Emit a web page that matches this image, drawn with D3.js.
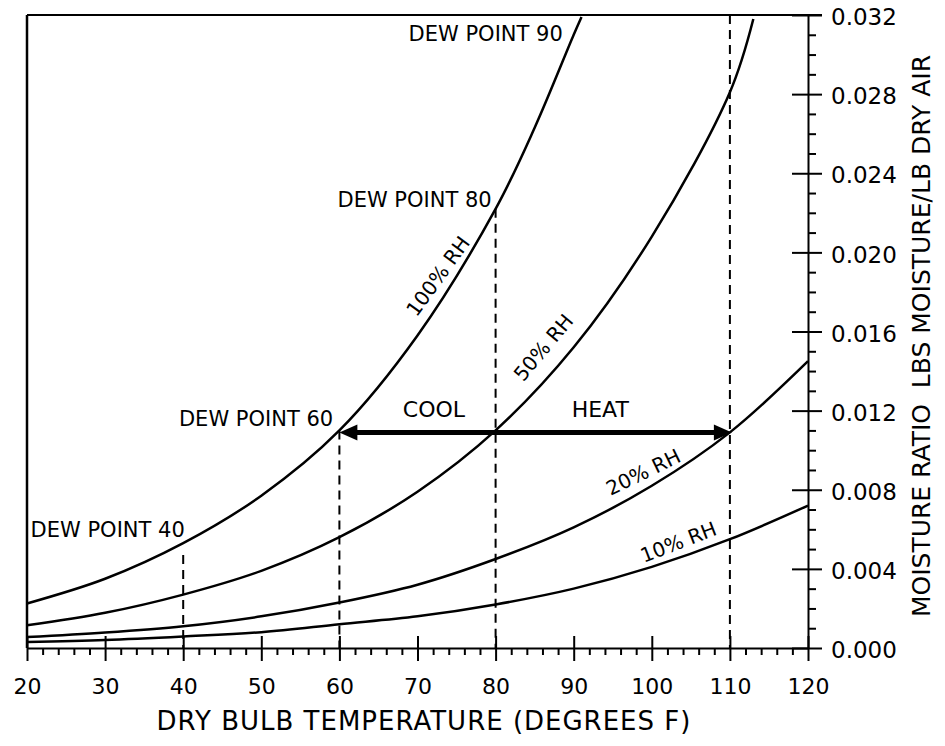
<!DOCTYPE html>
<html>
<head>
<meta charset="utf-8">
<script src="https://cdn.jsdelivr.net/npm/d3@7"></script>
<style>
  body { margin: 0; background: #fff; }
  svg { font-family: "DejaVu Sans", sans-serif; }
</style>
</head>
<body>
<svg width="945" height="746"></svg>
<script>
const width = 945;
const height = 746;

// Relative humidity curves (dry bulb F, moisture ratio lb/lb)
const rh100Temps = [20, 30, 40, 50, 60, 70, 80, 85, 90, 91];
const rh100 = [0.00225, 0.0035, 0.0053, 0.0077, 0.0110, 0.0158, 0.0222, 0.0263, 0.0310, 0.0319];
const rh50Temps = [20, 30, 40, 50, 60, 70, 80, 90, 100, 110, 113];
const rh50 = [0.00115, 0.00178, 0.0027, 0.0039, 0.0056, 0.0079, 0.0110, 0.0152, 0.0208, 0.0281, 0.0318];
const rhTemps = [20, 30, 40, 50, 60, 70, 80, 90, 100, 110, 120];
const rh20 = [0.00055, 0.00078, 0.0011, 0.0016, 0.0023, 0.0032, 0.0045, 0.0061, 0.0082, 0.0109, 0.0145];
const rh10 = [0.0003, 0.0004, 0.00058, 0.0008, 0.0012, 0.0016, 0.0022, 0.0030, 0.0041, 0.0055, 0.0072];

// dashed verticals (temperature, top moisture ratio)
const dropTemps = [40, 60, 80, 110];
const dropTops = [0.0047, 0.0110, 0.0222, 0.032];

// cool / heat process line
const processTemps = [60, 110];
const processW = 0.0109;

const xTicks = [20, 30, 40, 50, 60, 70, 80, 90, 100, 110, 120];
const yTicks = [0, 0.004, 0.008, 0.012, 0.016, 0.020, 0.024, 0.028, 0.032];

const labels = [
  { text: "DEW POINT 90", t: 88.6, w: 0.0307, anchor: "end", angle: 0, size: 21 },
  { text: "DEW POINT 80", t: 79.5, w: 0.0223, anchor: "end", angle: 0, size: 21 },
  { text: "DEW POINT 60", t: 59.2, w: 0.01122, anchor: "end", angle: 0, size: 21 },
  { text: "DEW POINT 40", t: 40.2, w: 0.00561, anchor: "end", angle: 0, size: 21 },
  { text: "COOL", t: 72.1, w: 0.01168, anchor: "middle", angle: 0, size: 22 },
  { text: "HEAT", t: 93.4, w: 0.01168, anchor: "middle", angle: 0, size: 22 },
  { text: "100% RH", t: 72.6, w: 0.0188, anchor: "middle", angle: -54, mid: true, size: 20 },
  { text: "50% RH", t: 86.1, w: 0.0152, anchor: "middle", angle: -50, mid: true, size: 20 },
  { text: "20% RH", t: 98.9, w: 0.0089, anchor: "middle", angle: -26, mid: true, size: 20 },
  { text: "10% RH", t: 103.4, w: 0.00536, anchor: "middle", angle: -21, mid: true, size: 20 }
];

const svg = d3.select("svg");

const x = d3.scaleLinear().domain([20, 120]).range([27, 808]);
const y = d3.scaleLinear().domain([0, 0.032]).range([648, 15]);

const line = d3.line()
  .x(d => x(d[0]))
  .y(d => y(d[1]))
  .curve(d3.curveCatmullRom);

// frame: top and left
svg.append("line")
  .attr("x1", x(20)).attr("x2", x(120) + 14)
  .attr("y1", y(0.032)).attr("y2", y(0.032))
  .attr("stroke", "#000").attr("stroke-width", 2);
svg.append("line")
  .attr("x1", x(20)).attr("x2", x(20))
  .attr("y1", y(0.032)).attr("y2", y(0))
  .attr("stroke", "#000").attr("stroke-width", 2.5);

// x axis
const xMinor = svg.append("g")
  .attr("transform", `translate(0,${y(0)})`)
  .call(d3.axisBottom(x).tickValues(d3.range(22, 120, 2).filter(v => v % 10 !== 0)).tickSize(7).tickFormat(""));
xMinor.select(".domain").remove();

const xAxis = svg.append("g")
  .attr("transform", `translate(0,${y(0)})`)
  .call(d3.axisBottom(x).tickValues(xTicks).tickSize(13).tickPadding(17).tickSizeOuter(0));
xAxis.selectAll(".tick line").attr("y1", -12);
xAxis.selectAll("text")
  .attr("font-size", 22).attr("font-family", "DejaVu Sans").attr("fill", "#000");

// y axis on right
const yMinor = svg.append("g")
  .attr("transform", `translate(${x(120)},0)`)
  .call(d3.axisRight(y).tickValues(d3.range(1, 32).filter(v => v % 4 !== 0).map(v => v / 1000)).tickSize(8).tickFormat(""));
yMinor.select(".domain").remove();

const yAxis = svg.append("g")
  .attr("transform", `translate(${x(120)},0)`)
  .call(d3.axisRight(y).tickValues(yTicks).tickSize(14).tickPadding(9).tickSizeOuter(0).tickFormat(d3.format(".3f")));
yAxis.selectAll(".tick line").attr("x1", -16);
yAxis.selectAll(".tick text").attr("dy", "0.42em");
yAxis.selectAll("text")
  .attr("font-size", 23).attr("font-family", "DejaVu Sans").attr("fill", "#000");

svg.selectAll(".domain, .tick line").attr("stroke", "#000").attr("stroke-width", 2);

// dashed verticals
svg.append("g")
  .selectAll("line")
  .data(dropTemps)
  .enter()
  .append("line")
  .attr("x1", d => x(d)).attr("x2", d => x(d))
  .attr("y1", (d, i) => y(dropTops[i])).attr("y2", y(0))
  .attr("stroke", "#000")
  .attr("stroke-width", 2)
  .attr("stroke-dasharray", "9,6");

// RH curves
const curves = [
  rh100Temps.map((t, i) => [t, rh100[i]]),
  rh50Temps.map((t, i) => [t, rh50[i]]),
  rhTemps.map((t, i) => [t, rh20[i]]),
  rhTemps.map((t, i) => [t, rh10[i]])
];
svg.append("g")
  .selectAll("path")
  .data(curves)
  .enter()
  .append("path")
  .attr("d", line)
  .attr("fill", "none")
  .attr("stroke", "#000")
  .attr("stroke-width", 2.5);

// process arrow
const px0 = x(processTemps[0]), px1 = x(processTemps[1]), py = y(processW);
svg.append("line")
  .attr("x1", px0 + 10).attr("x2", px1 - 10)
  .attr("y1", py).attr("y2", py)
  .attr("stroke", "#000").attr("stroke-width", 5);
svg.append("path")
  .attr("d", `M${px0},${py} L${px0 + 18},${py - 8} L${px0 + 18},${py + 8} Z`)
  .attr("fill", "#000");
svg.append("path")
  .attr("d", `M${px1 + 2},${py} L${px1 - 16},${py - 8} L${px1 - 16},${py + 8} Z`)
  .attr("fill", "#000");

// annotations
svg.append("g")
  .selectAll("text")
  .data(labels)
  .enter()
  .append("text")
  .attr("transform", d => `translate(${x(d.t)},${y(d.w)}) rotate(${d.angle})`)
  .attr("text-anchor", d => d.anchor)
  .attr("dy", d => d.mid ? "0.36em" : 0)
  .attr("font-size", d => d.size)
  .text(d => d.text);

// axis titles
svg.append("text")
  .attr("x", 424).attr("y", 730)
  .attr("text-anchor", "middle")
  .attr("font-size", 26)
  .attr("letter-spacing", 1)
  .text("DRY BULB TEMPERATURE (DEGREES F)");

svg.append("text")
  .attr("transform", "translate(930,336) rotate(-90)")
  .attr("text-anchor", "middle")
  .attr("font-size", 25)
  .attr("xml:space", "preserve")
  .style("white-space", "pre")
  .text("MOISTURE RATIO  LBS MOISTURE/LB DRY AIR");
</script>
</body>
</html>
